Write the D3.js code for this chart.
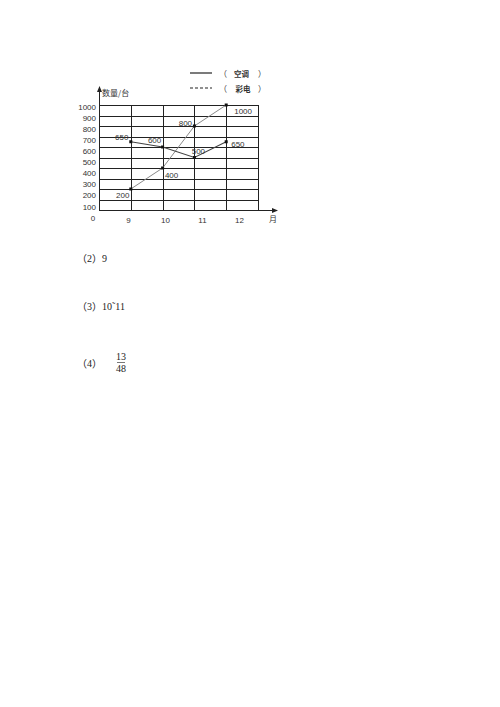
<!DOCTYPE html>
<html>
<head>
<meta charset="utf-8">
<script src="https://cdn.jsdelivr.net/npm/d3@7"></script>
<style>
  html, body { margin: 0; padding: 0; background: #fff; }
  svg { display: block; }
</style>
</head>
<body>
<div id="chart"></div>
<script>
// data
const months = [9, 10, 11, 12];
const acValues = [650, 600, 500, 650];   // 空调
const tvValues = [200, 400, 800, 1000];  // 彩电
const yTickLabels = [100, 200, 300, 400, 500, 600, 700, 800, 900, 1000];
const legendItems = ["空调", "彩电"];
const answers = [["2", "9"], ["3", "10˜11"]];

// label nudges around each point (layout only)
const acLabelOffsets = [[-9, -4], [-8, -7], [4, -6], [5, 3]];
const tvLabelOffsets = [[-8, 6], [9, 7], [-9, -3], [8, 6]];

const width = 500, height = 707;
const svg = d3.select("#chart").append("svg")
  .attr("width", width).attr("height", height);

const sans = "'Liberation Sans', Arial, sans-serif";
const cjk = "'Noto Sans CJK SC', sans-serif";
const serif = "'Liberation Serif', 'DejaVu Serif', serif";
const ink = "#333";

const x = d3.scaleLinear().domain([8, 13]).range([99, 258]);
const y = d3.scaleLinear().domain([0, 1000]).range([210, 105]);
// tick labels in the source sit on their own spacing, not on the grid
const yLab = d3.scaleLinear().domain([100, 1000]).range([207, 107.5]);
const xLab = d3.scaleLinear().domain([9, 12]).range([128.5, 239.5]);

// ── Grid ──
const grid = svg.append("g").attr("stroke", "#222").attr("stroke-width", 1);
grid.selectAll("line.h").data(y.ticks(10)).join("line")
  .attr("class", "h")
  .attr("x1", x(8)).attr("x2", x(13))
  .attr("y1", d => Math.round(y(d)) + 0.5).attr("y2", d => Math.round(y(d)) + 0.5);
grid.selectAll("line.v").data(d3.range(9, 14)).join("line")
  .attr("class", "v")
  .attr("x1", d => Math.round(x(d)) + 0.5).attr("x2", d => Math.round(x(d)) + 0.5)
  .attr("y1", y(0)).attr("y2", y(1000));

// ── Axes with arrows ──
svg.append("line")
  .attr("x1", x(8) + 0.5).attr("x2", x(8) + 0.5)
  .attr("y1", Math.round(y(0)) + 0.5).attr("y2", 90)
  .attr("stroke", "#222");
svg.append("path")
  .attr("d", `M${x(8) + 0.5},86 L${x(8) - 2},92 L${x(8) + 3},92 Z`)
  .attr("fill", "#222");
svg.append("line")
  .attr("x1", x(8)).attr("x2", 274)
  .attr("y1", Math.round(y(0)) + 0.5).attr("y2", Math.round(y(0)) + 0.5)
  .attr("stroke", "#222");
svg.append("path")
  .attr("d", `M278,${Math.round(y(0)) + 0.5} L272,${Math.round(y(0)) - 2} L272,${Math.round(y(0)) + 3} Z`)
  .attr("fill", "#222");

// ── Tick labels ──
svg.append("g").selectAll("text").data(yTickLabels).join("text")
  .attr("x", 96).attr("y", d => yLab(d))
  .attr("text-anchor", "end").attr("dominant-baseline", "central")
  .attr("font-family", sans).attr("font-size", 8).attr("fill", ink)
  .text(d => d);
svg.append("text")
  .attr("x", 93).attr("y", 218).attr("text-anchor", "middle")
  .attr("dominant-baseline", "central")
  .attr("font-family", sans).attr("font-size", 8).attr("fill", ink)
  .text("0");
svg.append("g").selectAll("text").data(months).join("text")
  .attr("x", d => xLab(d)).attr("y", 220)
  .attr("text-anchor", "middle").attr("dominant-baseline", "central")
  .attr("font-family", sans).attr("font-size", 8).attr("fill", ink)
  .text(d => d);
svg.append("text")
  .attr("x", 273).attr("y", 218).attr("text-anchor", "middle")
  .attr("dominant-baseline", "central")
  .attr("font-family", cjk).attr("font-size", 8).attr("fill", ink)
  .text("月");
svg.append("text")
  .attr("x", 102).attr("y", 92).attr("dominant-baseline", "central")
  .attr("font-family", cjk).attr("font-size", 8).attr("fill", ink)
  .text("数量/台");

// ── Lines ──
const line = d3.line().x(d => x(d[0])).y(d => y(d[1]));
const acData = months.map((m, i) => [m, acValues[i]]);
const tvData = months.map((m, i) => [m, tvValues[i]]);

svg.append("path").datum(tvData)
  .attr("d", line).attr("fill", "none")
  .attr("stroke", "#8a8a8a").attr("stroke-width", 1);
svg.append("path").datum(acData)
  .attr("d", line).attr("fill", "none")
  .attr("stroke", "#444").attr("stroke-width", 1.1);

[[acData, acLabelOffsets], [tvData, tvLabelOffsets]].forEach(([data, offs]) => {
  svg.append("g").selectAll("rect").data(data).join("rect")
    .attr("x", d => x(d[0]) - 1.5).attr("y", d => y(d[1]) - 1.5)
    .attr("width", 3).attr("height", 3).attr("fill", "#111");
  svg.append("g").selectAll("text").data(data).join("text")
    .attr("x", (d, i) => x(d[0]) + offs[i][0])
    .attr("y", (d, i) => y(d[1]) + offs[i][1])
    .attr("text-anchor", (d, i) => offs[i][0] > 0 && i === 3 ? "start" : "middle")
    .attr("dominant-baseline", "central")
    .attr("font-family", sans).attr("font-size", 8).attr("fill", ink)
    .text(d => d[1]);
});

// ── Legend ──
const legend = svg.append("g");
legendItems.forEach((name, i) => {
  const ly = 73 + i * 15;
  legend.append("line")
    .attr("x1", 190).attr("x2", 212).attr("y1", ly).attr("y2", ly)
    .attr("stroke", "#222").attr("stroke-width", 1.2)
    .attr("stroke-dasharray", i === 1 ? "3 2" : null);
  legend.append("text")
    .attr("x", 219).attr("y", ly).attr("dominant-baseline", "central")
    .attr("font-family", cjk).attr("font-size", 8).attr("fill", ink)
    .text("（");
  legend.append("text")
    .attr("x", 234 + i * 1.5).attr("y", ly).attr("dominant-baseline", "central")
    .attr("font-family", cjk).attr("font-size", 7.5).attr("fill", ink)
    .attr("font-weight", 700)
    .text(name);
  legend.append("text")
    .attr("x", 258).attr("y", ly).attr("dominant-baseline", "central")
    .attr("font-family", cjk).attr("font-size", 8).attr("fill", ink)
    .text("）");
});

// ── Answers below the chart ──
function numbered(yPos, n) {
  const t = svg.append("text")
    .attr("x", 77).attr("y", yPos).attr("dominant-baseline", "central")
    .attr("font-size", 10).attr("fill", "#222");
  t.append("tspan").attr("font-family", cjk).text("（");
  t.append("tspan").attr("font-family", serif).text(n);
  t.append("tspan").attr("font-family", cjk).text("）");
  return t;
}
answers.forEach(([n, a], i) => {
  numbered(258 + i * 48, n)
    .append("tspan").attr("font-family", serif).text(a);
});
numbered(363, "4");
svg.append("text")
  .attr("x", 121).attr("y", 356.5).attr("text-anchor", "middle")
  .attr("dominant-baseline", "central")
  .attr("font-family", serif).attr("font-size", 10).attr("fill", "#222")
  .text("13");
svg.append("line")
  .attr("x1", 117).attr("x2", 125).attr("y1", 362.5).attr("y2", 362.5)
  .attr("stroke", "#555").attr("stroke-width", 0.8);
svg.append("text")
  .attr("x", 121).attr("y", 368.5).attr("text-anchor", "middle")
  .attr("dominant-baseline", "central")
  .attr("font-family", serif).attr("font-size", 10).attr("fill", "#222")
  .text("48");
</script>
</body>
</html>
